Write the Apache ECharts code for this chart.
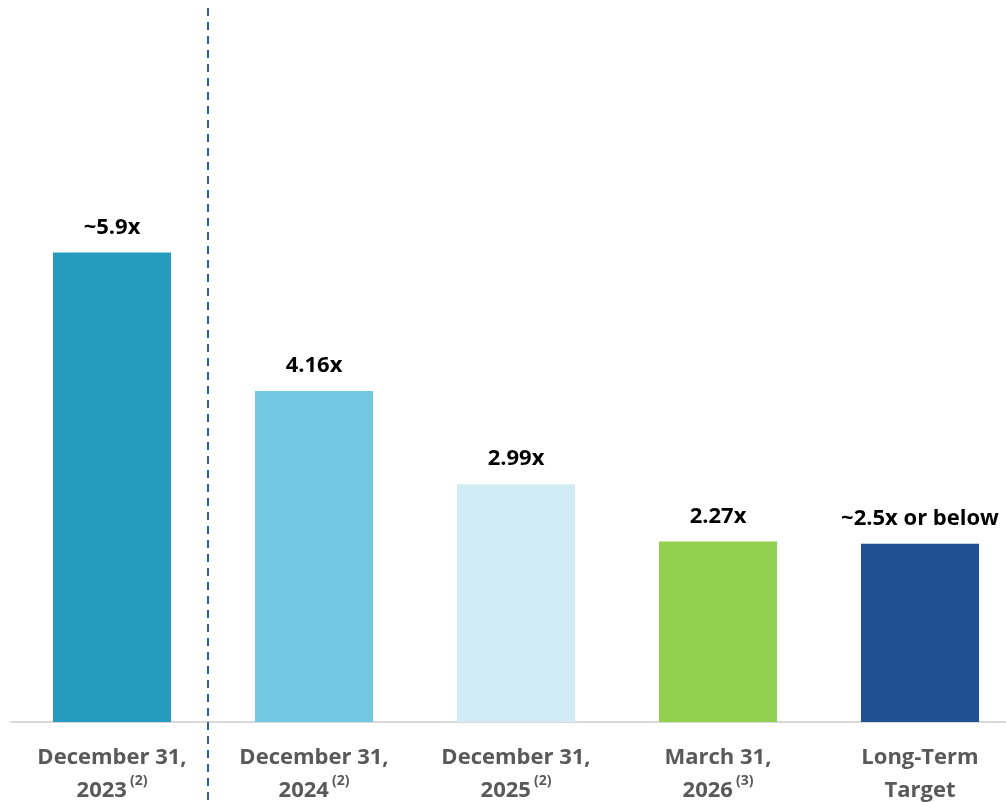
<!DOCTYPE html>
<html><head><meta charset="utf-8">
<script src="https://cdn.jsdelivr.net/npm/echarts@6/dist/echarts.min.js"></script>
<style>html,body{margin:0;padding:0;background:#fff;overflow:hidden}#c{width:1030px;height:802px}</style>
</head><body><div id="c"></div>
<script>
const categoryLine1 = ['December 31,', 'December 31,', 'December 31,', 'March 31,', 'Long-Term'];
const categoryLine2 = ['2023', '2024', '2025', '2026', 'Target'];
const footnotes = ['(2)', '(2)', '(2)', '(3)', ''];
const values = [5.9, 4.16, 2.99, 2.27, 2.24];
const valueLabels = ['~5.9x', '4.16x', '2.99x', '2.27x', '~2.5x or below'];
const colors = ['#259bbd', '#73c9e2', '#d1ebf4', '#92d050', '#1f5091'];

const categories = categoryLine1.map((l, i) => l + '\n' + categoryLine2[i] + (footnotes[i] ? '|' + footnotes[i] : ''));
const chart = echarts.init(document.getElementById('c'));
const FONT = 'Open Sans';
chart.setOption({
  animation: false,
  grid: { left: 11, right: 9, top: 6, bottom: 80 },
  xAxis: {
    type: 'category',
    data: categories,
    axisLine: { lineStyle: { color: '#d9d9d9', width: 2 } },
    axisTick: { show: false },
    axisLabel: {
      interval: 0,
      margin: 19,
      formatter: function (v) {
        const parts = v.split('\n');
        const l2 = parts[1].split('|');
        return '{a|' + parts[0] + '}\n{a|' + l2[0] + '}' + (l2[1] ? '{s|' + l2[1] + '}' : '');
      },
      rich: {
        a: { fontFamily: FONT, fontWeight: 'bold', fontSize: 22, color: '#595959', lineHeight: 33 },
        s: { fontFamily: FONT, fontWeight: 'bold', fontSize: 14, color: '#595959', verticalAlign: 'top', padding: [0, 0, 0, 3], lineHeight: 33 }
      }
    }
  },
  yAxis: { type: 'value', min: 0, max: 9, show: false, splitLine: { show: false } },
  series: [{
    type: 'bar',
    barWidth: 118,
    data: values.map((v, i) => ({ value: v, itemStyle: { color: colors[i] } })),
    label: {
      show: true,
      position: 'top',
      distance: 14,
      fontFamily: FONT,
      fontWeight: 'bold',
      fontSize: 22,
      color: '#000',
      formatter: p => valueLabels[p.dataIndex]
    }
  }],
  graphic: [{
    type: 'line',
    shape: { x1: 208, y1: 8, x2: 208, y2: 802 },
    style: { stroke: '#2e5fa0', lineWidth: 2, lineDash: [8, 6] },
    z: 10
  }]
});
</script></body></html>
